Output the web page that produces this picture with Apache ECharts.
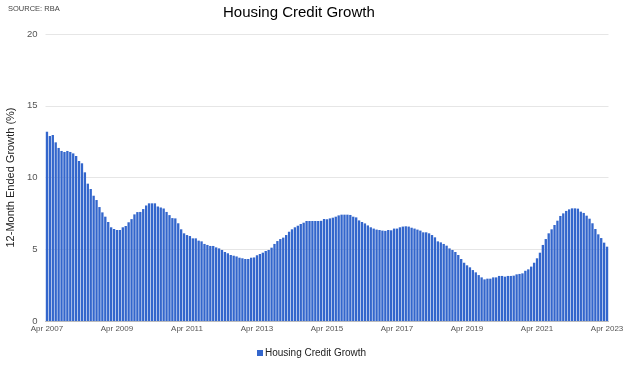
<!DOCTYPE html>
<html>
<head>
<meta charset="utf-8">
<script src="https://cdn.jsdelivr.net/npm/echarts@6/dist/echarts.min.js"></script>
<style>
html,body{margin:0;padding:0;background:#fff;}
#c{width:640px;height:367px;}
</style>
</head>
<body>
<div id="c"></div>
<script>
// Monthly categories from Apr 2007 to Apr 2023
var startYear = 2007, startMonth = 3, monthCount = 193;
var monthNames = ['Jan','Feb','Mar','Apr','May','Jun','Jul','Aug','Sep','Oct','Nov','Dec'];
var categories = [];
for (var i = 0; i < monthCount; i++) {
  var m = (startMonth + i) % 12;
  var y = startYear + Math.floor((startMonth + i) / 12);
  categories.push(monthNames[m] + ' ' + y);
}

// 12-month ended housing credit growth (%)
var growth2007to2010 = [13.19, 12.89, 12.96, 12.45, 12.06, 11.85, 11.78, 11.85, 11.78, 11.68, 11.5, 11.15,
  10.99, 10.36, 9.57, 9.2, 8.73, 8.43, 7.94, 7.57, 7.27, 6.9, 6.53, 6.41,
  6.34, 6.34, 6.53, 6.62, 6.88, 7.1, 7.43, 7.59, 7.6, 7.8, 8.05, 8.2,
  8.2, 8.2, 7.98, 7.91, 7.84, 7.6, 7.38, 7.17, 7.15];
var growth2011to2014 = [6.81, 6.39, 6.11, 5.99, 5.92, 5.76, 5.76, 5.6, 5.55, 5.37, 5.3, 5.23,
  5.23, 5.13, 5.06, 4.95, 4.81, 4.72, 4.6, 4.55, 4.5, 4.41, 4.37, 4.32,
  4.32, 4.41, 4.43, 4.58, 4.67, 4.76, 4.88, 4.95, 5.11, 5.37, 5.57, 5.71,
  5.81, 5.99, 6.22, 6.39, 6.53, 6.64, 6.76, 6.85, 6.97, 6.97, 6.97];
var growth2015to2018 = [6.97, 6.97, 6.98, 7.11, 7.09, 7.15, 7.2, 7.27, 7.36, 7.41, 7.41, 7.41,
  7.39, 7.27, 7.22, 7.01, 6.9, 6.8, 6.66, 6.53, 6.44, 6.37, 6.34, 6.3,
  6.28, 6.34, 6.32, 6.44, 6.44, 6.53, 6.58, 6.6, 6.58, 6.5, 6.44, 6.37,
  6.3, 6.18, 6.18, 6.11, 5.99, 5.83, 5.55, 5.48, 5.37, 5.25, 5.06];
var growth2019to2023 = [4.95, 4.81, 4.6, 4.32, 4.06, 3.88, 3.74, 3.55, 3.39, 3.2, 3.04, 2.9,
  2.95, 2.95, 3.04, 3.04, 3.14, 3.14, 3.09, 3.14, 3.14, 3.16, 3.25, 3.28,
  3.32, 3.5, 3.6, 3.79, 4.06, 4.37, 4.76, 5.3, 5.71, 6.11, 6.39, 6.69,
  6.99, 7.32, 7.5, 7.67, 7.78, 7.85, 7.85, 7.83, 7.62, 7.53, 7.34, 7.13,
  6.81, 6.41, 6.04, 5.78, 5.46, 5.18];
var seriesValues = growth2007to2010.concat(growth2011to2014, growth2015to2018, growth2019to2023);

var yTicks = [0, 5, 10, 15, 20];

var font = 'Arial, "Liberation Sans", sans-serif';
var chart = echarts.init(document.getElementById('c'), null, {renderer: 'canvas'});
chart.setOption({
  animation: false,
  backgroundColor: '#ffffff',
  title: [{
    text: 'Housing Credit Growth',
    left: 223, top: 5, padding: 0,
    textStyle: {fontFamily: font, fontSize: 15, fontWeight: 'normal', color: '#000'}
  }, {
    text: 'SOURCE: RBA',
    left: 8, top: 5, padding: 0,
    textStyle: {fontFamily: font, fontSize: 7.5, fontWeight: 'normal', color: '#444'}
  }],
  legend: {
    data: ['Housing Credit Growth'],
    left: 257, top: 348, padding: 0,
    icon: 'rect', itemWidth: 6, itemHeight: 6, itemGap: 4,
    textStyle: {fontFamily: font, fontSize: 10, color: '#222', padding: [0, 0, 0, -3]}
  },
  grid: {left: 45.5, right: 31.5, top: 34, bottom: 46, containLabel: false, outerBoundsMode: 'none'},
  xAxis: {
    type: 'category',
    data: categories,
    boundaryGap: true,
    axisLine: {show: true, lineStyle: {color: '#bbb', width: 1}},
    axisTick: {show: false},
    axisLabel: {interval: 23, fontFamily: font, fontSize: 8, color: '#555', margin: 4},
    splitLine: {show: false}
  },
  yAxis: {
    type: 'value',
    min: yTicks[0], max: yTicks[yTicks.length - 1], interval: 5,
    name: '12-Month Ended Growth (%)',
    nameLocation: 'middle',
    nameGap: 29,
    nameTextStyle: {fontFamily: font, fontSize: 11, color: '#222'},
    axisLine: {show: false},
    axisTick: {show: false},
    axisLabel: {fontFamily: font, fontSize: 9.5, color: '#555', margin: 8},
    splitLine: {lineStyle: {color: '#e6e6e6', width: 1}}
  },
  series: [{
    name: 'Housing Credit Growth',
    type: 'bar',
    data: seriesValues,
    barCategoryGap: '20%',
    itemStyle: {color: '#3366cc'}
  }]
});
</script>
</body>
</html>
